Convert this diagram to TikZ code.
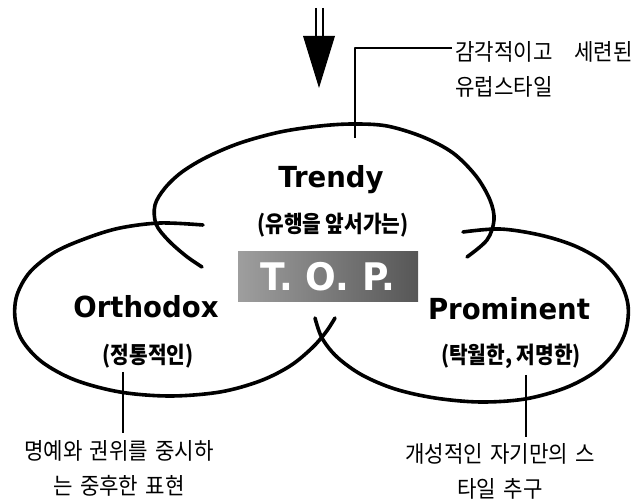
\documentclass[tikz,border=0pt]{standalone}
\usepackage{fontspec}
\newfontfamily\enfont[FakeStretch=0.95]{DejaVu Sans}
\newfontfamily\kofont[FakeStretch=0.88]{Noto Sans CJK KR}
\newfontfamily\kolight[FakeStretch=0.92,WordSpace=1.5]{Noto Sans CJK KR}
\begin{document}
\begin{tikzpicture}[x=1pt,y=-1pt,line join=round]
\useasboundingbox (0,0) rectangle (641,502);
\tikzset{
  ring/.style={line width=3.6pt,line cap=round},
  leader/.style={line width=1.7pt},
  en/.style={font=\enfont\bfseries\fontsize{29}{31}\selectfont,inner sep=0pt},
  kob/.style={font=\kofont\bfseries\fontsize{23}{25}\selectfont,inner sep=0pt},
  kol/.style={font=\kolight\fontsize{23}{35}\selectfont,inner sep=0pt},
  topbox/.style={minimum width=180pt,minimum height=50pt,inner sep=0pt,
    left color=black!38,right color=black!66,text=white,
    font=\enfont\bfseries\fontsize{38}{40}\selectfont}
}
% three open rings
\draw[ring] plot[smooth,tension=0.55] coordinates {(202,267) (186,256) (168,240) (156,224) (155,205) (165,188) (182,172) (207,157) (240,143) (280,132) (320,126) (353,124) (387,126) (423,137) (453,153) (476,176) (490,200) (494,220) (487,240) (467,257)};
\draw[ring] plot[smooth,tension=0.55] coordinates {(203,225) (160,223) (120,228) (87,238) (55,252) (30,272) (17,295) (15,318) (22,340) (42,362) (75,380) (120,392) (170,396) (220,392) (260,381) (290,366) (312,348) (326,332) (335,318)};
\draw[ring] plot[smooth,tension=0.55] coordinates {(463,232) (500,229) (540,235) (575,246) (603,262) (620,282) (628,305) (626,330) (615,352) (595,372) (565,388) (525,399) (480,402) (435,398) (395,389) (362,375) (337,357) (322,338) (315,318)};
% labels
\node[en,anchor=base] (trendy) at (331,188) {Trendy};
\node[kob] (trendyko) at (333,225) {(유행을 앞서가는)};
\node[en,anchor=base] (ortho) at (146,318) {Orthodox};
\node[kob] (orthoko) at (148,356) {(정통적인)};
\node[en,anchor=base] (prom) at (509,320) {Prominent};
\node[kob] (promko) at (511,356) {(탁월한, 저명한)};
\node[topbox] (top) at (328,277) {T.~O.~P.};
% arrow
\coordinate (arrA) at (316,8);
\coordinate (arrB) at (323,8);
\coordinate (arrtip) at (319,88);
\draw[line width=2pt] (arrA) -- ++(0,30);
\draw[line width=2pt] (arrB) -- ++(0,30);
\fill (303,36) -- (335,36) -- (arrtip) -- cycle;
% leader texts
\node[kol,anchor=west,align=left] (ttext) at (455,69) {감각적이고\hspace*{22pt}세련된\\유럽스타일};
\node[kol,align=center] (ltext) at (119,468) {명예와 권위를 중시하\\는 중후한 표현};
\node[kol,align=center] (rtext) at (500,471) {개성적인 자기만의 스\\타일 추구};
% leader lines
\coordinate (tA) at (355,138);
\coordinate (tB) at (452,48);
\draw[leader] (tA) |- (tB);
\coordinate (lA) at (123,372);
\coordinate (lB) at (123,433);
\draw[leader] (lA) -- (lB);
\coordinate (rA) at (526,375);
\coordinate (rB) at (526,437);
\draw[leader] (rA) -- (rB);
\end{tikzpicture}
\end{document}
